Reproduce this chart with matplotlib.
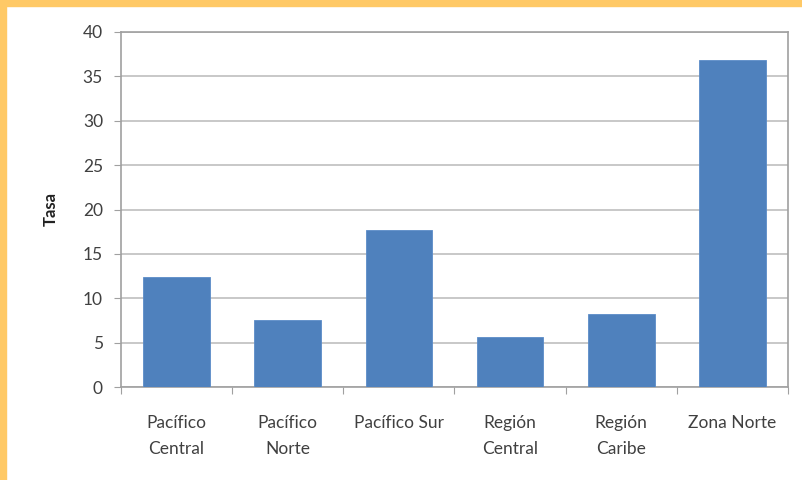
import matplotlib
matplotlib.use("Agg")
import matplotlib.pyplot as plt
from matplotlib import patches

regions = ["Pacífico\nCentral", "Pacífico\nNorte", "Pacífico Sur",
           "Región\nCentral", "Región\nCaribe", "Zona Norte"]
rates = [12.4, 7.6, 17.7, 5.6, 8.2, 36.8]
y_ticks = [0, 5, 10, 15, 20, 25, 30, 35, 40]

plt.rcParams["font.family"] = ["Lato", "DejaVu Sans"]

fig = plt.figure(figsize=(8.03, 4.80), dpi=100)
W, H = 803, 480
ax = fig.add_axes([121 / W, 1 - 387 / H, (788 - 121) / W, (387 - 32) / H])

x = list(range(len(regions)))
ax.bar(x, rates, width=0.6, color="#4F81BD", edgecolor="#5B8CC8",
       linewidth=0.6, zorder=3)
ax.set_xlim(-0.5, len(regions) - 0.5)
ax.set_ylim(0, 40)
ax.set_yticks(y_ticks)
ax.set_yticklabels([str(v) for v in y_ticks], fontsize=12.5, color="#404040")
ax.yaxis.grid(True, color="#BFBFBF", linewidth=1.2, zorder=0)

# category labels between tick marks
ax.set_xticks([i + 0.5 for i in range(-1, len(regions))])
ax.set_xticklabels([])
ax.set_xticks(x, minor=True)
ax.set_xticklabels(regions, minor=True, fontsize=12.5, color="#404040",
                   linespacing=1.75)
ax.tick_params(axis="x", which="minor", length=0, pad=20)
ax.tick_params(axis="x", which="major", length=5, color="#A0A0A0",
               direction="out")
ax.tick_params(axis="y", length=5, color="#A0A0A0", direction="out", pad=8)

for side in ["left", "right", "top", "bottom"]:
    ax.spines[side].set_color("#A0A0A0")
    ax.spines[side].set_linewidth(1.2)

ax.set_ylabel("Tasa", fontsize=12, fontweight="bold", color="#222222",
              labelpad=17)

# orange frame along top and left edges
fig.patches.append(patches.Rectangle((0, 1 - 6 / H), 1, 6 / H,
                                     transform=fig.transFigure,
                                     color="#FFC966", zorder=10))
fig.patches.append(patches.Rectangle((0, 0), 6 / W, 1,
                                     transform=fig.transFigure,
                                     color="#FFC966", zorder=10))

fig.savefig("out.png", dpi=100)
